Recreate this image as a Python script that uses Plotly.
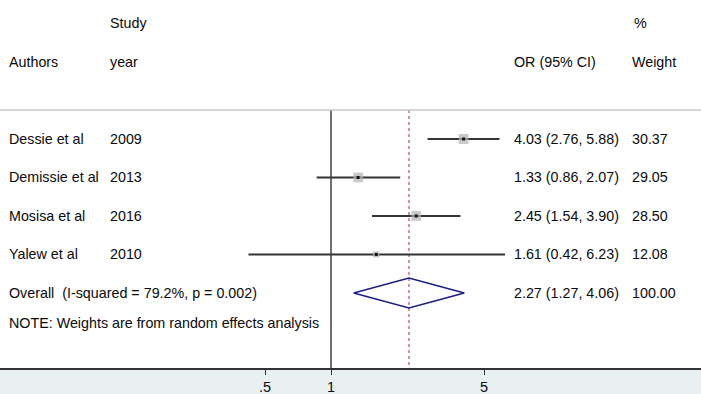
import numpy as np
import plotly.graph_objects as go

authors = ["Dessie et al", "Demissie et al", "Mosisa et al", "Yalew et al"]
years = ["2009", "2013", "2016", "2010"]
odds = [4.03, 1.33, 2.45, 1.61]
lower = [2.76, 0.86, 1.54, 0.42]
upper = [5.88, 2.07, 3.90, 6.23]
weights = [30.37, 29.05, 28.50, 12.08]
overall_or, overall_lo, overall_hi = 2.27, 1.27, 4.06
overall_label = "Overall  (I-squared = 79.2%, p = 0.002)"
note = "NOTE: Weights are from random effects analysis"
tick_vals = [0.5, 1, 5]
tick_text = [".5", "1", "5"]

W, H = 701, 394
FONT = "Liberation Sans, Arial, sans-serif"
study_rows = [3, 4, 5, 6]
overall_row = 7
note_row = 7.78
sep_row = 2.25
bottom_row = 8.95

fig = go.Figure()

# null line and overall dashed line
fig.add_trace(go.Scatter(x=[1, 1], y=[sep_row, bottom_row], mode="lines",
                         line=dict(color="#222222", width=1.3), hoverinfo="skip"))
fig.add_trace(go.Scatter(x=[overall_or, overall_or], y=[sep_row, bottom_row], mode="lines",
                         line=dict(color="#c0505a", width=1.2, dash="3px,3px"), hoverinfo="skip"))

# CI lines
for r, lo, hi in zip(study_rows, lower, upper):
    fig.add_trace(go.Scatter(x=[lo, hi], y=[r, r], mode="lines",
                             line=dict(color="#333333", width=2), hoverinfo="skip"))

# weight boxes
sizes = [10 * np.sqrt(w / max(weights)) for w in weights]
fig.add_trace(go.Scatter(x=odds, y=study_rows, mode="markers",
                         marker=dict(symbol="square", size=sizes, color="#b4b4b4",
                                     line=dict(width=0)), hoverinfo="skip"))
fig.add_trace(go.Scatter(x=odds, y=study_rows, mode="markers",
                         marker=dict(symbol="square", size=3, color="#111111",
                                     line=dict(width=0)), hoverinfo="skip"))

# diamond
dh = 0.39
fig.add_trace(go.Scatter(x=[overall_lo, overall_or, overall_hi, overall_or, overall_lo],
                         y=[overall_row, overall_row - dh, overall_row, overall_row + dh, overall_row],
                         mode="lines", line=dict(color="#1c1c86", width=1.5), hoverinfo="skip"))

def txt(x_px, row, s):
    fig.add_annotation(x=x_px / W, xref="paper", y=row, yref="y", text=s,
                       showarrow=False, xanchor="left", yanchor="middle",
                       font=dict(family=FONT, size=14.3, color="#0a0a0a"))

txt(108, 0, "Study")
txt(632, 0, "%")
txt(7, 1, "Authors")
txt(108, 1, "year")
txt(512, 1, "OR (95% CI)")
txt(630, 1, "Weight")
for r, a, y, o, lo, hi, w in zip(study_rows, authors, years, odds, lower, upper, weights):
    txt(7, r, a)
    txt(108, r, y)
    txt(512, r, f"{o:.2f} ({lo:.2f}, {hi:.2f})")
    txt(630, r, f"{w:.2f}")
txt(7, overall_row, overall_label)
txt(512, overall_row, f"{overall_or:.2f} ({overall_lo:.2f}, {overall_hi:.2f})")
txt(630, overall_row, "100.00")
txt(7, note_row, note)

fig.add_shape(type="line", xref="paper", x0=0, x1=1, yref="y", y0=sep_row, y1=sep_row,
              line=dict(color="#c8c8c8", width=1.5))

x_lo = np.log10(1) - 331 / 219
x_hi = x_lo + W / 219
fig.update_layout(
    width=W, height=H, showlegend=False,
    margin=dict(l=0, r=0, t=0, b=26),
    paper_bgcolor="#e8f0f2", plot_bgcolor="#ffffff",
    xaxis=dict(type="log", range=[x_lo, x_hi], tickvals=tick_vals, ticktext=tick_text,
               showgrid=False, zeroline=False, showline=True, linecolor="#333333", linewidth=2,
               ticks="outside", ticklen=5, tickcolor="#333333",
               tickfont=dict(family=FONT, size=14.5, color="#0a0a0a")),
    yaxis=dict(range=[bottom_row, -0.61], showgrid=False, zeroline=False, showticklabels=False,
               showline=False, fixedrange=True),
)
fig.write_html("out.html", config={"displayModeBar": False},
               post_script="document.body.style.margin='0';document.body.style.overflow='hidden';")
